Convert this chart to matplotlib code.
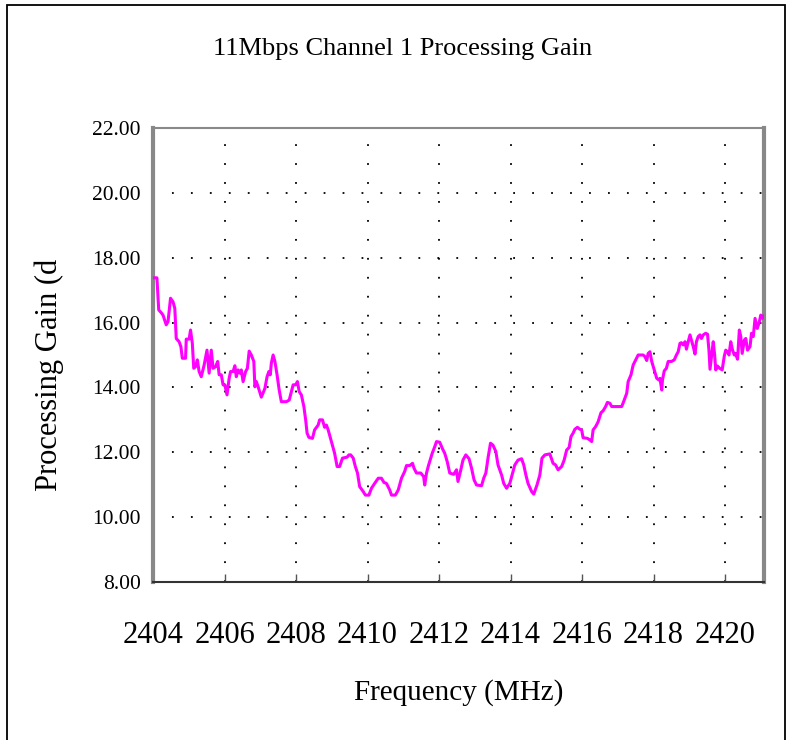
import matplotlib
matplotlib.use("Agg")
import matplotlib.pyplot as plt
from matplotlib.patches import Rectangle

# Frequency (MHz) and processing gain (dB)
freq = [
    2404.00, 2404.11, 2404.16, 2404.24, 2404.28, 2404.37, 2404.42, 2404.49, 2404.56, 2404.61,
    2404.65, 2404.73, 2404.78, 2404.82, 2404.91, 2404.93, 2405.01, 2405.05, 2405.10, 2405.14,
    2405.19, 2405.24, 2405.29, 2405.35, 2405.43, 2405.51, 2405.57, 2405.63, 2405.68, 2405.75,
    2405.81, 2405.85, 2405.91, 2405.96, 2406.01, 2406.07, 2406.13, 2406.17, 2406.24, 2406.29,
    2406.33, 2406.38, 2406.43, 2406.47, 2406.52, 2406.59, 2406.64, 2406.69, 2406.75, 2406.82,
    2406.85, 2406.89, 2406.94, 2407.03, 2407.13, 2407.19, 2407.24, 2407.28, 2407.31, 2407.36,
    2407.41, 2407.47, 2407.53, 2407.59, 2407.73, 2407.81, 2407.87, 2407.92, 2407.99, 2408.04,
    2408.09, 2408.15, 2408.22, 2408.27, 2408.31, 2408.36, 2408.46, 2408.52, 2408.62, 2408.66,
    2408.74, 2408.80, 2408.85, 2408.90, 2408.99, 2409.08, 2409.15, 2409.22, 2409.30, 2409.43,
    2409.48, 2409.53, 2409.60, 2409.66, 2409.72, 2409.78, 2409.88, 2409.94, 2410.04, 2410.11,
    2410.20, 2410.30, 2410.39, 2410.46, 2410.53, 2410.62, 2410.67, 2410.78, 2410.86, 2410.95,
    2411.04, 2411.09, 2411.18, 2411.26, 2411.30, 2411.37, 2411.49, 2411.57, 2411.60, 2411.65,
    2411.71, 2411.81, 2411.88, 2411.93, 2412.02, 2412.10, 2412.16, 2412.23, 2412.30, 2412.41,
    2412.49, 2412.53, 2412.60, 2412.67, 2412.75, 2412.84, 2412.91, 2412.98, 2413.05, 2413.19,
    2413.25, 2413.31, 2413.37, 2413.44, 2413.51, 2413.59, 2413.65, 2413.75, 2413.81, 2413.89,
    2413.98, 2414.06, 2414.12, 2414.21, 2414.31, 2414.37, 2414.43, 2414.49, 2414.59, 2414.65,
    2414.74, 2414.82, 2414.88, 2414.96, 2415.10, 2415.19, 2415.26, 2415.33, 2415.43, 2415.50,
    2415.57, 2415.64, 2415.69, 2415.75, 2415.80, 2415.87, 2415.94, 2415.99, 2416.03, 2416.15,
    2416.22, 2416.27, 2416.31, 2416.38, 2416.45, 2416.53, 2416.59, 2416.66, 2416.71, 2416.78,
    2416.83, 2417.11, 2417.18, 2417.25, 2417.29, 2417.37, 2417.43, 2417.48, 2417.57, 2417.71,
    2417.76, 2417.81, 2417.85, 2417.90, 2417.95, 2418.02, 2418.09, 2418.15, 2418.18, 2418.23,
    2418.25, 2418.30, 2418.36, 2418.41, 2418.50, 2418.58, 2418.64, 2418.69, 2418.74, 2418.78,
    2418.83, 2418.88, 2418.92, 2418.97, 2419.02, 2419.06, 2419.11, 2419.16, 2419.20, 2419.25,
    2419.30, 2419.34, 2419.39, 2419.46, 2419.51, 2419.55, 2419.58, 2419.62, 2419.67, 2419.71,
    2419.74, 2419.79, 2419.85, 2419.92, 2419.98, 2420.02, 2420.07, 2420.11, 2420.16, 2420.21,
    2420.26, 2420.29, 2420.35, 2420.40, 2420.44, 2420.48, 2420.54, 2420.58, 2420.63, 2420.70,
    2420.74, 2420.79, 2420.84, 2420.90, 2420.95, 2421.00, 2421.05, 2421.08,
]
gain = [
    17.38, 17.38, 16.39, 16.29, 16.23, 15.93, 16.03, 16.75, 16.64, 16.44,
    15.51, 15.41, 15.26, 14.90, 14.90, 15.49, 15.49, 15.77, 15.36, 14.59,
    14.64, 14.85, 14.49, 14.33, 14.69, 15.15, 14.44, 15.15, 14.59, 14.64,
    14.80, 14.39, 14.39, 14.08, 14.08, 13.77, 14.28, 14.49, 14.49, 14.67,
    14.33, 14.54, 14.44, 14.54, 14.18, 14.49, 14.59, 15.12, 15.00, 14.80,
    14.02, 14.18, 14.02, 13.70, 13.97, 14.33, 14.49, 14.39, 14.75, 15.00,
    14.80, 14.39, 13.92, 13.56, 13.56, 13.61, 13.87, 14.08, 14.08, 14.18,
    13.87, 13.77, 13.41, 13.00, 12.59, 12.46, 12.43, 12.69, 12.84, 13.00,
    13.00, 12.77, 12.84, 12.69, 12.33, 11.97, 11.56, 11.56, 11.82, 11.85,
    11.92, 11.92, 11.82, 11.56, 11.36, 10.94, 10.79, 10.68, 10.68, 10.89,
    11.04, 11.20, 11.20, 11.07, 11.04, 10.84, 10.68, 10.68, 10.84, 11.20,
    11.41, 11.59, 11.59, 11.66, 11.51, 11.36, 11.36, 11.25, 10.99, 11.36,
    11.61, 11.97, 12.17, 12.33, 12.31, 12.10, 11.97, 11.71, 11.36, 11.32,
    11.46, 11.10, 11.41, 11.76, 11.92, 11.80, 11.51, 11.15, 10.99, 10.97,
    11.20, 11.36, 11.82, 12.28, 12.22, 12.02, 11.61, 11.30, 11.04, 10.89,
    11.04, 11.36, 11.61, 11.76, 11.80, 11.61, 11.30, 11.04, 10.79, 10.71,
    10.99, 11.30, 11.82, 11.92, 11.95, 11.66, 11.61, 11.46, 11.56, 11.76,
    12.07, 12.15, 12.48, 12.59, 12.71, 12.77, 12.71, 12.69, 12.45, 12.43,
    12.38, 12.33, 12.69, 12.79, 12.94, 13.22, 13.28, 13.41, 13.54, 13.51,
    13.41, 13.41, 13.61, 13.82, 14.18, 14.39, 14.69, 14.80, 15.00, 15.00,
    14.95, 14.83, 15.05, 15.10, 14.80, 14.54, 14.28, 14.23, 14.28, 13.92,
    14.23, 14.51, 14.59, 14.80, 14.80, 14.85, 15.00, 15.10, 15.36, 15.38,
    15.31, 15.41, 15.18, 15.41, 15.62, 15.46, 15.26, 15.03, 15.41, 15.57,
    15.62, 15.51, 15.62, 15.67, 15.64, 15.15, 14.56, 14.95, 15.41, 15.00,
    14.54, 14.66, 14.59, 14.54, 14.97, 15.15, 15.10, 15.00, 15.41, 15.15,
    15.00, 15.05, 14.87, 15.77, 15.57, 15.05, 15.46, 15.51, 15.15, 15.26,
    15.67, 15.57, 16.13, 15.82, 15.98, 16.23, 16.13, 16.20,
]

x_ticks = [2404, 2406, 2408, 2410, 2412, 2414, 2416, 2418, 2420]
y_ticks = [8, 10, 12, 14, 16, 18, 20, 22]

plt.rcParams['font.family'] = ['Liberation Serif', 'DejaVu Serif']

fig = plt.figure(figsize=(7.89, 7.4), dpi=100)
ax = fig.add_axes([153 / 789, 1 - 582 / 740, 611 / 789, 454 / 740])

ax.plot(freq, gain, color='#ff00ff', linewidth=2.2, zorder=3)

ax.set_xlim(2404, 2421.09)
ax.set_ylim(8, 22)
ax.set_xticks(x_ticks)
ax.set_yticks(y_ticks)
ax.set_xticklabels([str(t) for t in x_ticks], fontsize=22)
ax.set_yticklabels(['%.2f' % t for t in y_ticks], fontsize=15.5)
ax.tick_params(axis='x', direction='in', length=6, width=1, color='#555555', pad=28)
ax.tick_params(axis='y', direction='in', length=0, pad=9)

# dotted grid, excel style
for t in x_ticks[1:]:
    ax.axvline(t, color='black', linewidth=1.3, linestyle=(0, (1, 9.5)), zorder=1)
for t in y_ticks[1:-1]:
    ax.axhline(t, color='black', linewidth=1.3, linestyle=(0, (1, 9.5)), zorder=1)

ax.spines['left'].set_color('#888888')
ax.spines['left'].set_linewidth(3)
ax.spines['right'].set_color('#888888')
ax.spines['right'].set_linewidth(3)
ax.spines['top'].set_color('#888888')
ax.spines['top'].set_linewidth(1.5)
ax.spines['bottom'].set_color('#333333')
ax.spines['bottom'].set_linewidth(1.5)

fig.text(403 / 789, 1 - 49 / 740, '11Mbps Channel 1 Processing Gain',
         ha='center', va='center', fontsize=19)
fig.text(459 / 789, 1 - 693 / 740, 'Frequency (MHz)',
         ha='center', va='center', fontsize=21)
fig.text(49 / 789, 1 - 375 / 740, 'Processing Gain (d',
         ha='center', va='center', rotation=90, fontsize=22)

# outer chart border
fig.patches.append(Rectangle((7 / 789, -0.02), 778 / 789, 1.02 - 5 / 740,
                             transform=fig.transFigure, fill=False,
                             edgecolor='black', linewidth=1.3))

fig.savefig('out.png', dpi=100)
